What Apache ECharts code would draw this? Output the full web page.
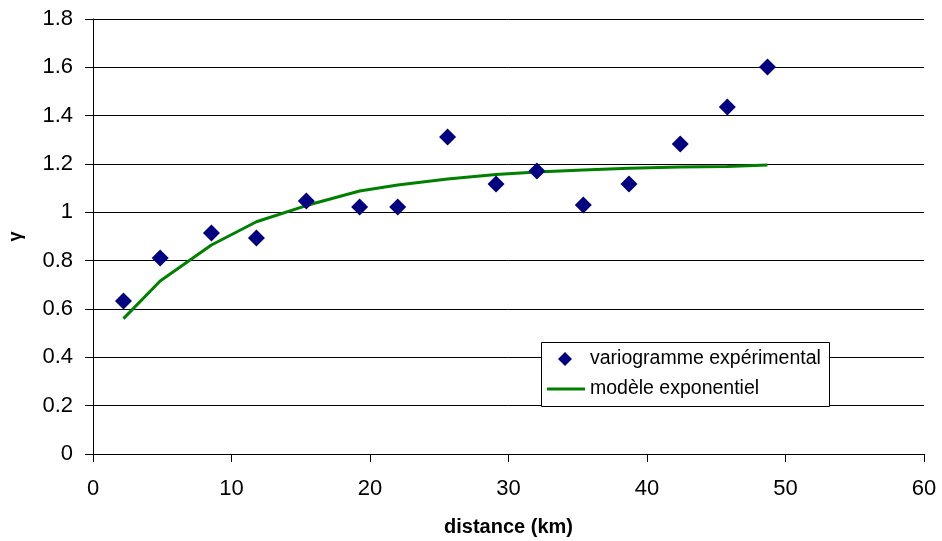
<!DOCTYPE html>
<html>
<head>
<meta charset="utf-8">
<script src="https://cdn.jsdelivr.net/npm/echarts@6/dist/echarts.min.js"></script>
<style>
  html, body { margin: 0; padding: 0; background: #fff; }
  #chart { width: 942px; height: 541px; }
</style>
</head>
<body>
<div id="chart"></div>
<script>
// distances (km) for each lag
var distances = [2.2, 4.85, 8.55, 11.8, 15.4, 19.25, 22.0, 25.6, 29.1, 32.05, 35.4, 38.7, 42.4, 45.8, 48.7];
// variogramme expérimental
var gammaExp = [0.633, 0.811, 0.914, 0.894, 1.047, 1.022, 1.022, 1.312, 1.117, 1.171, 1.030, 1.117, 1.283, 1.436, 1.601];
// modèle exponentiel
var gammaModel = [0.56, 0.716, 0.865, 0.961, 1.028, 1.088, 1.113, 1.138, 1.157, 1.167, 1.175, 1.182, 1.188, 1.190, 1.196];

var font = 'Liberation Sans, Arial, sans-serif';
var legendFont = { fontFamily: font, fontSize: 19.5, color: '#000' };

var chart = echarts.init(document.getElementById('chart'));

var option = {
    animation: false,
    backgroundColor: '#fff',
    grid: { left: 93, right: 18, top: 19, bottom: 87, containLabel: false, outerBoundsMode: 'none' },
    // cadre de la légende
    graphic: [{
        type: 'rect',
        z: 50,
        shape: { x: 541.5, y: 342.5, width: 288, height: 64 },
        style: { fill: '#fff', stroke: '#000', lineWidth: 1 }
    }],
    legend: [
        {
            z: 60,
            left: 558,
            top: 349,
            padding: 0,
            itemWidth: 14,
            itemHeight: 14,
            textStyle: Object.assign({ padding: [0, 0, 0, 13] }, legendFont),
            data: [{ name: 'variogramme expérimental', icon: 'diamond' }]
        },
        {
            z: 60,
            left: 547,
            top: 379,
            padding: 0,
            itemWidth: 38,
            itemHeight: 3,
            textStyle: legendFont,
            data: [{ name: 'modèle exponentiel', icon: 'rect' }]
        }
    ],
    xAxis: {
        type: 'value',
        min: 0, max: 60, interval: 10,
        name: 'distance (km)',
        nameLocation: 'middle',
        nameGap: 63,
        nameTextStyle: { fontFamily: font, fontSize: 20, fontWeight: 'bold', color: '#000' },
        axisLine: { lineStyle: { color: '#000', width: 1 } },
        axisTick: { show: true, length: 8, lineStyle: { color: '#000' } },
        axisLabel: { fontFamily: font, fontSize: 22, color: '#000', margin: 24 },
        splitLine: { show: false }
    },
    yAxis: {
        type: 'value',
        min: 0, max: 1.8, interval: 0.2,
        name: 'γ',
        nameLocation: 'middle',
        nameGap: 68,
        nameRotate: 90,
        nameTextStyle: { fontFamily: font, fontSize: 18, fontWeight: 'bold', color: '#000' },
        axisLine: { show: true, lineStyle: { color: '#000', width: 1 } },
        axisTick: { show: true, length: 8, lineStyle: { color: '#000' } },
        axisLabel: {
            fontFamily: font, fontSize: 22, color: '#000', margin: 20,
            formatter: function (v) { return String(Math.round(v * 10) / 10); }
        },
        splitLine: { show: true, lineStyle: { color: '#000', width: 1 } }
    },
    series: [
        {
            name: 'variogramme expérimental',
            type: 'scatter',
            symbol: 'diamond',
            symbolSize: 17,
            itemStyle: { color: '#000080', opacity: 1 },
            data: distances.map(function (d, i) { return [d, gammaExp[i]]; }),
            z: 3
        },
        {
            name: 'modèle exponentiel',
            type: 'line',
            symbol: 'none',
            lineStyle: { color: '#008000', width: 3 },
            itemStyle: { color: '#008000' },
            data: distances.map(function (d, i) { return [d, gammaModel[i]]; }),
            z: 2
        }
    ]
};

chart.setOption(option);
</script>
</body>
</html>
